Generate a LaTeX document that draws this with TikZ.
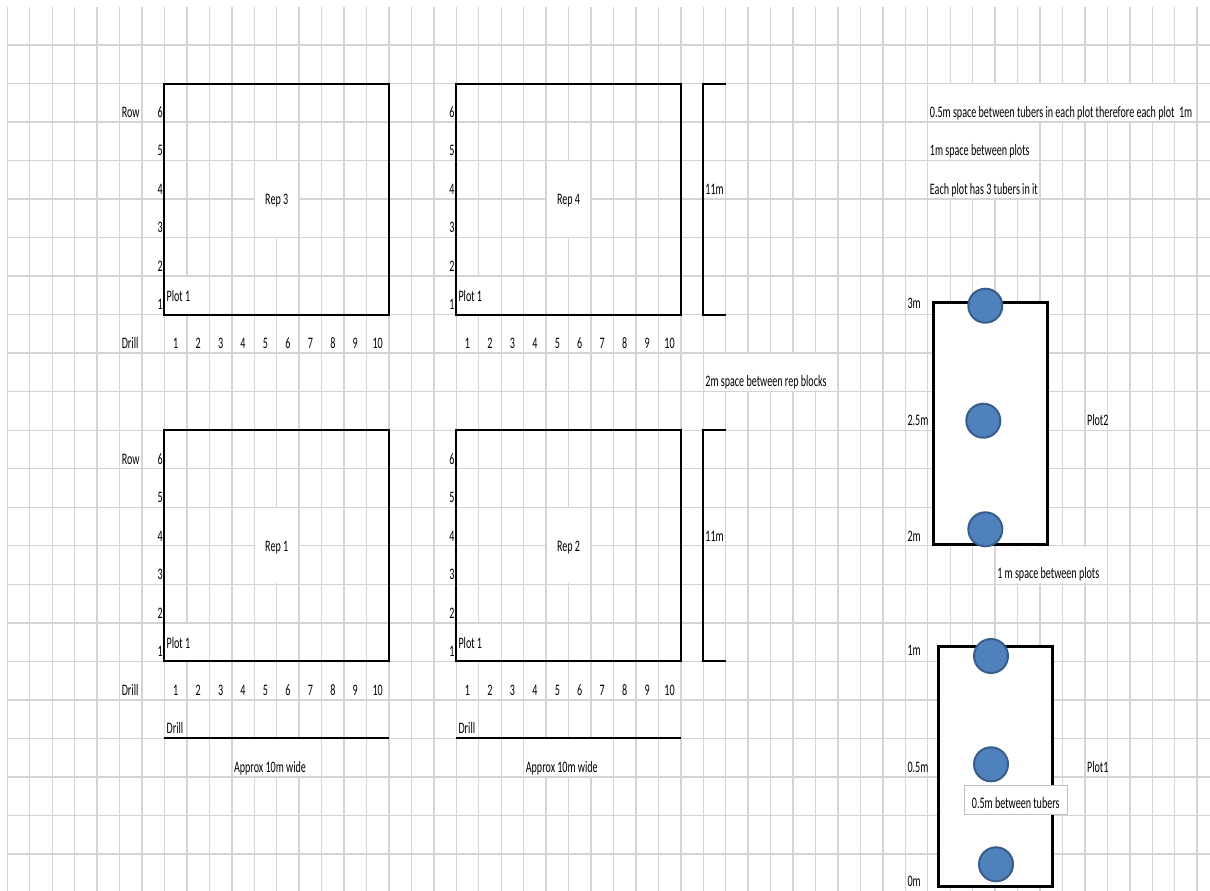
\documentclass[tikz,border=0pt]{standalone}
\usepackage{fontspec}
\newfontfamily\cellfont[FakeStretch=0.63]{Carlito}
\usetikzlibrary{shapes.geometric}
\definecolor{gridgray}{HTML}{D4D4D4}
\definecolor{tuberfill}{HTML}{4F81BD}
\definecolor{tuberedge}{HTML}{385D8A}
\definecolor{boxgray}{HTML}{BFBFBF}
\newcommand\hidecells[4]{\fill[white] ({gx(#1)+0.9},{gy(#3)+0.9}) rectangle ({gx(#2)-0.9},{gy(#4)-0.9});}
\begin{document}
\begin{tikzpicture}[x=1pt,y=-1pt,
  declare function={gx(\k)=7.3+22.45*\k; gy(\j)=45+38.52*\j;},
  gridline/.style={draw=gridgray,line width=1.4pt},
  heavy/.style={draw=black,line width=2pt},
  plotbox/.style={draw=black,line width=3pt,fill=white},
  tuber/.style={circle,fill=tuberfill,draw=tuberedge,line width=2pt,minimum size=34pt,inner sep=0pt},
  lbl/.style={font=\cellfont\fontsize{16}{19}\selectfont,inner sep=0pt,anchor=base west},
  num/.style={lbl,anchor=base east},
  ctr/.style={lbl,anchor=base},
]
\useasboundingbox (0,0) rectangle (1210,891);
\fill[white] (0,0) rectangle (1210,891);
% grid
\foreach \k in {0,...,53} \draw[gridline] ({gx(\k)},7) -- ({gx(\k)},891);
\foreach \j in {0,...,21} \draw[gridline] ({gx(0)},{gy(\j)}) -- (1210,{gy(\j)});
% merged / overflow cells
\hidecells{11}{13}{3}{5}
\hidecells{24}{26}{3}{5}
\hidecells{11}{13}{12}{14}
\hidecells{24}{26}{12}{14}
\hidecells{7}{9}{6}{7}
\hidecells{20}{22}{6}{7}
\hidecells{7}{9}{15}{16}
\hidecells{20}{22}{15}{16}
\hidecells{31}{37}{8}{9}
\hidecells{10}{14}{18}{19}
\hidecells{23}{27}{18}{19}
\hidecells{41}{53}{1}{2}
\hidecells{41}{46}{2}{3}
\hidecells{41}{46}{3}{4}
\hidecells{44}{49}{13}{14}
% rep blocks
\draw[heavy] ({gx(7)},{gy(1)}) rectangle ({gx(17)},{gy(7)});
\draw[heavy] ({gx(20)},{gy(1)}) rectangle ({gx(30)},{gy(7)});
\draw[heavy] ({gx(7)},{gy(10)}) rectangle ({gx(17)},{gy(16)});
\draw[heavy] ({gx(20)},{gy(10)}) rectangle ({gx(30)},{gy(16)});
% brackets
\draw[heavy] ({gx(32)},{gy(1)}) -- ({gx(31)},{gy(1)}) -- ({gx(31)},{gy(7)}) -- ({gx(32)},{gy(7)});
\draw[heavy] ({gx(32)},{gy(10)}) -- ({gx(31)},{gy(10)}) -- ({gx(31)},{gy(16)}) -- ({gx(32)},{gy(16)});
% drill underlines
\draw[heavy] ({gx(7)},{gy(18)}) -- ({gx(17)},{gy(18)});
\draw[heavy] ({gx(20)},{gy(18)}) -- ({gx(30)},{gy(18)});
% row labels
\node[lbl] (rowA) at ({gx(5)+2},{gy(2)-4.7}) {Row};
\node[lbl] (rowB) at ({gx(5)+2},{gy(11)-4.7}) {Row};
\node[lbl] (drillA) at ({gx(5)+2},{gy(8)-4.7}) {Drill};
\node[lbl] (drillB) at ({gx(5)+2},{gy(17)-4.7}) {Drill};
\foreach \r in {1,...,6} {
  \node[num] (ra\r) at ({gx(7)-1.5},{gy(8-\r)-4.7}) {\r};
  \node[num] (rb\r) at ({gx(20)-1.5},{gy(8-\r)-4.7}) {\r};
  \node[num] (rc\r) at ({gx(7)-1.5},{gy(17-\r)-4.7}) {\r};
  \node[num] (rd\r) at ({gx(20)-1.5},{gy(17-\r)-4.7}) {\r};
}
\foreach \d in {1,...,10} {
  \node[ctr] (da\d) at ({gx(6+\d)+11.22},{gy(8)-4.7}) {\d};
  \node[ctr] (db\d) at ({gx(19+\d)+11.22},{gy(8)-4.7}) {\d};
  \node[ctr] (dc\d) at ({gx(6+\d)+11.22},{gy(17)-4.7}) {\d};
  \node[ctr] (dd\d) at ({gx(19+\d)+11.22},{gy(17)-4.7}) {\d};
}
\node[lbl] (pa) at ({gx(7)+2},{gy(7)-13}) {Plot 1};
\node[lbl] (pb) at ({gx(20)+2},{gy(7)-13}) {Plot 1};
\node[lbl] (pc) at ({gx(7)+2},{gy(16)-13}) {Plot 1};
\node[lbl] (pd) at ({gx(20)+2},{gy(16)-13}) {Plot 1};
\node[ctr] (rep3) at ({gx(12)},{gy(4)+5.8}) {Rep 3};
\node[ctr] (rep4) at ({gx(25)},{gy(4)+5.8}) {Rep 4};
\node[ctr] (rep1) at ({gx(12)},{gy(13)+5.8}) {Rep 1};
\node[ctr] (rep2) at ({gx(25)},{gy(13)+5.8}) {Rep 2};
\node[lbl] (ua) at ({gx(7)+2},{gy(18)-4.7}) {Drill};
\node[lbl] (ub) at ({gx(20)+2},{gy(18)-4.7}) {Drill};
\node[lbl] (wa) at ({gx(10)+2},{gy(19)-4.7}) {Approx 10m wide};
\node[lbl] (wb) at ({gx(23)+2},{gy(19)-4.7}) {Approx 10m wide};
\node[lbl] (ha) at ({gx(31)+2},{gy(4)-4.7}) {11m};
\node[lbl] (hb) at ({gx(31)+2},{gy(13)-4.7}) {11m};
\node[lbl] (gap) at ({gx(31)+2},{gy(9)-4.7}) {2m space between rep blocks};
% notes
\node[lbl] (n1) at ({gx(41)+2},{gy(2)-4.7}) {0.5m space between tubers in each plot therefore each plot\ \ 1m};
\node[lbl] (n2) at ({gx(41)+2},{gy(3)-4.7}) {1m space between plots};
\node[lbl] (n3) at ({gx(41)+2},{gy(4)-4.7}) {Each plot has 3 tubers in it};
\node[lbl] (n4) at ({gx(44)+2},{gy(14)-5.5}) {1 m space between plots};
% plot 2
\draw[plotbox] (933.3,302.3) rectangle (1047.3,544);
\node[tuber] (t21) at (985.3,305.7) {};
\node[tuber] (t22) at (983.3,420.7) {};
\node[tuber] (t23) at (985.3,529.3) {};
\node[lbl] (m3) at ({gx(40)+2},{gy(7)-6}) {3m};
\node[lbl] (m25) at ({gx(40)+2},{gy(10)-4.7}) {2.5m};
\node[lbl] (m2) at ({gx(40)+2},{gy(13)-4.7}) {2m};
\node[lbl] (pl2) at ({gx(48)+2},{gy(10)-4.7}) {Plot2};
% plot 1
\draw[plotbox] (938.3,646.7) rectangle (1052.3,886.7);
\node[tuber] (t11) at (991,656) {};
\node[tuber] (t12) at (991,764.3) {};
\node[tuber] (t13) at (996,864.3) {};
\node[lbl] (m1) at ({gx(40)+2},{gy(16)-6}) {1m};
\node[lbl] (m05) at ({gx(40)+2},{gy(19)-4.7}) {0.5m};
\node[lbl] (m0) at ({gx(40)+2},886) {0m};
\node[lbl] (pl1) at ({gx(48)+2},{gy(19)-4.7}) {Plot1};
\draw[draw=boxgray,fill=white,line width=1pt] (964.3,785.7) rectangle (1067.3,814);
\node[lbl] (tb) at (971.7,808) {0.5m between tubers};
\end{tikzpicture}
\end{document}
